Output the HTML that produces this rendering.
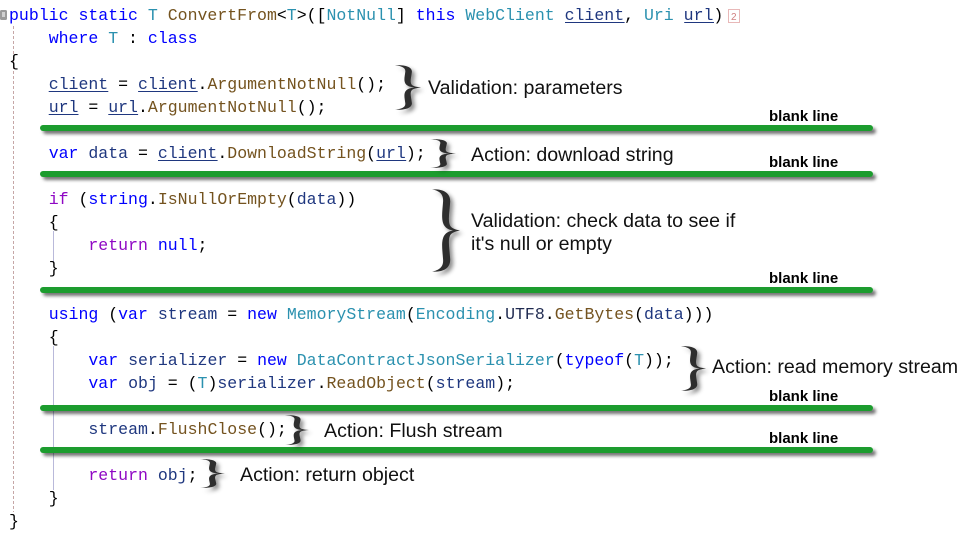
<!DOCTYPE html>
<html>
<head>
<meta charset="utf-8">
<style>
  html, body { margin:0; padding:0; background:#fff; }
  body { width:965px; height:538px; overflow:hidden; }
  svg { display:block; }
  .code { font-family:"Liberation Mono", monospace; font-size:16.55px; white-space:pre; }
  .ann { font-family:"Liberation Sans", Arial, sans-serif; font-size:19.6px; fill:#111; }
  .bl { font-family:"Liberation Sans", Arial, sans-serif; font-size:15px; font-weight:bold; fill:#000; }
</style>
</head>
<body>
<svg width="965" height="538" viewBox="0 0 965 538" xmlns="http://www.w3.org/2000/svg" xml:space="preserve">
  <defs>
    <filter id="barsh" x="-5%" y="-200%" width="110%" height="600%">
      <feDropShadow dx="3" dy="3" stdDeviation="1.6" flood-color="#000" flood-opacity="0.55"/>
    </filter>
    <filter id="brsh" x="-50%" y="-30%" width="200%" height="160%">
      <feDropShadow dx="3" dy="3" stdDeviation="2" flood-color="#000" flood-opacity="0.45"/>
    </filter>
    <path id="brace" d="M0,0.5 C10,-0.5 16.5,5 15.5,17 C15,28 13.5,38 15.5,44 C16.5,47 20,49 24,50 C20,51 16.5,53 15.5,56 C13.5,62 15,72 15.5,83 C16.5,95 10,100.5 0,99.5 C6,98 10,94 9.5,85 C9,74 7.5,63 10.5,56 C12,53 14,51 18,50 C14,49 12,47 10.5,44 C7.5,37 9,26 9.5,15 C10,6 6,2 0,0.5 Z" fill="#2e2e2e"/>
  </defs>

  <!-- margin icon -->
  <rect x="0" y="10" width="7" height="10" rx="1.5" fill="#9a9a9a"/>
  <rect x="2" y="12" width="3" height="5" fill="#d0d0d0"/>

  <!-- guide lines -->
  <line x1="13.5" y1="26" x2="13.5" y2="512" stroke="#c6a6a6" stroke-width="1" stroke-dasharray="3,2"/>
  <line x1="53.5" y1="231" x2="53.5" y2="262" stroke="#b9b9da" stroke-width="1"/>
  <line x1="53.5" y1="346" x2="53.5" y2="490" stroke="#b9b9da" stroke-width="1"/>

  <!-- code -->
  <g class="code" fill="#000">
    <text x="9" y="20"><tspan fill="#0000ff">public static </tspan><tspan fill="#2b91af">T</tspan> <tspan fill="#74531f">ConvertFrom</tspan>&lt;<tspan fill="#2b91af">T</tspan>&gt;([<tspan fill="#2b91af">NotNull</tspan>] <tspan fill="#0000ff">this </tspan><tspan fill="#2b91af">WebClient </tspan><tspan fill="#1f377f">client</tspan>, <tspan fill="#2b91af">Uri </tspan><tspan fill="#1f377f">url</tspan>)</text>
    <text x="48.7" y="43"><tspan fill="#0000ff">where </tspan><tspan fill="#2b91af">T</tspan> : <tspan fill="#0000ff">class</tspan></text>
    <text x="9" y="66">{</text>
    <text x="48.7" y="89"><tspan fill="#1f377f">client</tspan> = <tspan fill="#1f377f">client</tspan>.<tspan fill="#74531f">ArgumentNotNull</tspan>();</text>
    <text x="48.7" y="112"><tspan fill="#1f377f">url</tspan> = <tspan fill="#1f377f">url</tspan>.<tspan fill="#74531f">ArgumentNotNull</tspan>();</text>
    <text x="48.7" y="158"><tspan fill="#0000ff">var </tspan><tspan fill="#1f377f">data</tspan> = <tspan fill="#1f377f">client</tspan>.<tspan fill="#74531f">DownloadString</tspan>(<tspan fill="#1f377f">url</tspan>);</text>
    <text x="48.7" y="204"><tspan fill="#8f08c4">if </tspan>(<tspan fill="#0000ff">string</tspan>.<tspan fill="#74531f">IsNullOrEmpty</tspan>(<tspan fill="#1f377f">data</tspan>))</text>
    <text x="48.7" y="227">{</text>
    <text x="88.4" y="250"><tspan fill="#8f08c4">return </tspan><tspan fill="#0000ff">null</tspan>;</text>
    <text x="48.7" y="273">}</text>
    <text x="48.7" y="319"><tspan fill="#0000ff">using </tspan>(<tspan fill="#0000ff">var </tspan><tspan fill="#1f377f">stream</tspan> = <tspan fill="#0000ff">new </tspan><tspan fill="#2b91af">MemoryStream</tspan>(<tspan fill="#2b91af">Encoding</tspan>.<tspan fill="#1f2a50">UTF8</tspan>.<tspan fill="#74531f">GetBytes</tspan>(<tspan fill="#1f377f">data</tspan>)))</text>
    <text x="48.7" y="342">{</text>
    <text x="88.4" y="365"><tspan fill="#0000ff">var </tspan><tspan fill="#1f377f">serializer</tspan> = <tspan fill="#0000ff">new </tspan><tspan fill="#2b91af">DataContractJsonSerializer</tspan>(<tspan fill="#0000ff">typeof</tspan>(<tspan fill="#2b91af">T</tspan>));</text>
    <text x="88.4" y="388"><tspan fill="#0000ff">var </tspan><tspan fill="#1f377f">obj</tspan> = (<tspan fill="#2b91af">T</tspan>)<tspan fill="#1f377f">serializer</tspan>.<tspan fill="#74531f">ReadObject</tspan>(<tspan fill="#1f377f">stream</tspan>);</text>
    <text x="88.4" y="434"><tspan fill="#1f377f">stream</tspan>.<tspan fill="#74531f">FlushClose</tspan>();</text>
    <text x="88.4" y="480"><tspan fill="#8f08c4">return </tspan><tspan fill="#1f377f">obj</tspan>;</text>
    <text x="48.7" y="503">}</text>
    <text x="9" y="526">}</text>
  </g>

  <!-- underlines -->
  <g stroke="#1f377f" stroke-width="1">
    <line x1="565" y1="22.5" x2="624.6" y2="22.5"/>
    <line x1="684.2" y1="22.5" x2="714" y2="22.5"/>
    <line x1="48.7" y1="91.5" x2="108.3" y2="91.5"/>
    <line x1="138.1" y1="91.5" x2="197.7" y2="91.5"/>
    <line x1="48.7" y1="114.5" x2="78.5" y2="114.5"/>
    <line x1="108.3" y1="114.5" x2="138.1" y2="114.5"/>
    <line x1="158" y1="160.5" x2="217.6" y2="160.5"/>
    <line x1="376.4" y1="160.5" x2="406.2" y2="160.5"/>
  </g>

  <!-- small "2" box -->
  <rect x="728.5" y="9.5" width="11" height="13" fill="#fff" stroke="#e8b8b8" stroke-width="1"/>
  <text x="731" y="20" font-family="Liberation Sans, sans-serif" font-size="10" fill="#d08080">2</text>

  <!-- green bars -->
  <g filter="url(#barsh)" fill="#1e9c2e">
    <rect x="40" y="125" width="833" height="6" rx="3"/>
    <rect x="40" y="171" width="833" height="6" rx="3"/>
    <rect x="40" y="287" width="833" height="6" rx="3"/>
    <rect x="40" y="405" width="833" height="6" rx="3"/>
    <rect x="40" y="447" width="833" height="6" rx="3"/>
  </g>

  <!-- blank line labels -->
  <text class="bl" x="769" y="121">blank line</text>
  <text class="bl" x="769" y="167">blank line</text>
  <text class="bl" x="769" y="283">blank line</text>
  <text class="bl" x="769" y="401">blank line</text>
  <text class="bl" x="769" y="443">blank line</text>

  <!-- braces -->
  <g filter="url(#brsh)">
    <svg x="395" y="65" width="26" height="45" viewBox="0 0 24 100" preserveAspectRatio="none"><use href="#brace"/></svg>
  </g>
  <g filter="url(#brsh)">
    <svg x="430" y="139" width="26" height="29" viewBox="0 0 24 100" preserveAspectRatio="none"><use href="#brace"/></svg>
  </g>
  <g filter="url(#brsh)">
    <svg x="432" y="189" width="28" height="83" viewBox="0 0 24 100" preserveAspectRatio="none"><use href="#brace"/></svg>
  </g>
  <g filter="url(#brsh)">
    <svg x="681" y="346" width="25" height="45" viewBox="0 0 24 100" preserveAspectRatio="none"><use href="#brace"/></svg>
  </g>
  <g filter="url(#brsh)">
    <svg x="285" y="415" width="24" height="30" viewBox="0 0 24 100" preserveAspectRatio="none"><use href="#brace"/></svg>
  </g>
  <g filter="url(#brsh)">
    <svg x="200" y="459" width="25" height="29" viewBox="0 0 24 100" preserveAspectRatio="none"><use href="#brace"/></svg>
  </g>

  <!-- annotations -->
  <text class="ann" x="428" y="94">Validation: parameters</text>
  <text class="ann" x="471" y="161">Action: download string</text>
  <text class="ann" x="471" y="227">Validation: check data to see if</text>
  <text class="ann" x="471" y="250">it's null or empty</text>
  <text class="ann" x="712" y="373">Action: read memory stream</text>
  <text class="ann" x="324" y="437">Action: Flush stream</text>
  <text class="ann" x="240" y="481">Action: return object</text>
</svg>
</body>
</html>
